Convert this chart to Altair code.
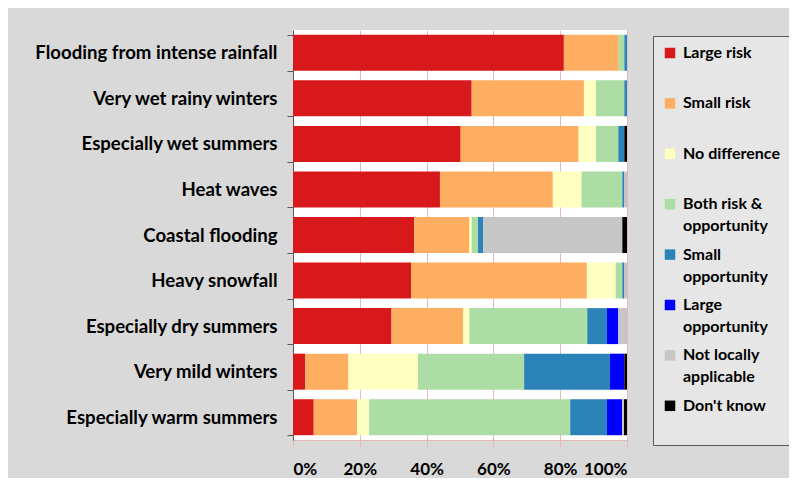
import altair as alt
import pandas as pd

categories = [
    "Flooding from intense rainfall",
    "Very wet rainy winters",
    "Especially wet summers",
    "Heat waves",
    "Coastal flooding",
    "Heavy snowfall",
    "Especially dry summers",
    "Very mild winters",
    "Especially warm summers",
]

series = [
    "Large risk",
    "Small risk",
    "No difference",
    "Both risk & opportunity",
    "Small opportunity",
    "Large opportunity",
    "Not locally applicable",
    "Don't know",
]

# percentages per category (same order as categories)
large_risk = [81.1, 53.5, 50.2, 44.0, 36.3, 35.4, 29.5, 3.7, 6.2]
small_risk = [16.4, 33.6, 35.3, 33.8, 16.5, 52.6, 21.5, 12.9, 13.0]
no_difference = [0.0, 3.6, 5.2, 8.6, 0.7, 8.6, 1.8, 20.8, 3.6]
both_risk_opp = [1.7, 8.5, 6.7, 12.2, 1.9, 2.0, 35.3, 31.8, 60.2]
small_opp = [0.8, 0.8, 1.8, 0.5, 1.5, 0.5, 5.9, 25.7, 11.0]
large_opp = [0.0, 0.0, 0.0, 0.0, 0.0, 0.0, 3.4, 4.3, 4.5]
not_applicable = [0.0, 0.0, 0.0, 0.9, 41.7, 0.9, 2.6, 0.0, 0.6]
dont_know = [0.0, 0.0, 0.8, 0.0, 1.4, 0.0, 0.0, 0.8, 0.9]

values = [large_risk, small_risk, no_difference, both_risk_opp,
          small_opp, large_opp, not_applicable, dont_know]

colors = ["#d7191c", "#fdae61", "#ffffbf", "#abdda4",
          "#2b83ba", "#0000ff", "#c6c6c6", "#000000"]

legend_lines = {
    "Both risk & opportunity": ["Both risk &", "opportunity"],
    "Small opportunity": ["Small", "opportunity"],
    "Large opportunity": ["Large", "opportunity"],
    "Not locally applicable": ["Not locally", "applicable"],
}

rows = []
for si, (name, vals) in enumerate(zip(series, values)):
    for ci, cat in enumerate(categories):
        rows.append({"hazard": cat, "response": name, "share": vals[ci], "order": si})
df = pd.DataFrame(rows)

expr = "datum.label"
for k, lines in legend_lines.items():
    arr = "[" + ", ".join("'" + l + "'" for l in lines) + "]"
    expr = f"datum.label == '{k}' ? {arr} : ({expr})"

FONT = "Lato"
GRID = "#e6b9b8"

chart = alt.Chart(df).mark_bar().encode(
    y=alt.Y(
        "hazard:N",
        sort=categories,
        scale=alt.Scale(paddingInner=0.21, paddingOuter=0.105),
        axis=alt.Axis(
            title=None, labelFontSize=18.6, labelFontWeight="bold", labelColor="#000000",
            labelPadding=10, tickSize=6, tickColor="#595959", domainColor="#595959",
            tickBand="extent", labelLimit=320, labelFont=FONT,
        ),
    ),
    x=alt.X(
        "share:Q",
        stack="normalize",
        scale=alt.Scale(domain=[0, 1], nice=False),
        axis=alt.Axis(
            title=None, format=".0%", values=[0, 0.2, 0.4, 0.6, 0.8, 1.0],
            grid=True, gridColor=GRID, tickColor=GRID, domainColor=GRID,
            tickSize=7, labelFontSize=17, labelFontWeight="bold", labelPadding=14,
            labelColor="#000000", labelFont=FONT,
        ),
    ),
    color=alt.Color(
        "response:N",
        sort=series,
        scale=alt.Scale(domain=series, range=colors),
        legend=alt.Legend(
            title=" ", titleOrient="bottom", titleFontSize=12, titlePadding=11,
            orient="none", legendX=360, legendY=6,
            symbolType="square", symbolSize=110, symbolStrokeWidth=0,
            labelFontSize=16, labelFontWeight="bold", labelColor="#000000",
            labelFont=FONT, labelOffset=5, labelExpr=expr,
            gridAlign="all", rowPadding=12.4, padding=9,
            fillColor="#e6e6e6", strokeColor="#595959", labelLimit=200,
        ),
    ),
    order=alt.Order("order:Q"),
).properties(
    width=334,
    height=410,
    padding={"left": 285, "top": 22, "right": 162, "bottom": 38},
    autosize=alt.AutoSizeParams(type="none"),
    background="#d9d9d9",
).configure(
    font=FONT, style={"guide-label": {"lineHeight": 22}}
).configure_view(fill="white", strokeWidth=0)

chart.save("out.html", embed_options={"renderer": "svg", "actions": False})
